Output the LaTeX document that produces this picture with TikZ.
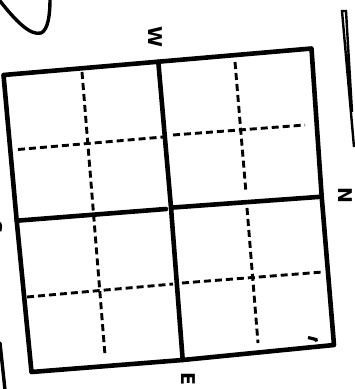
\documentclass[tikz,border=0pt]{standalone}
\usepackage{fontspec}
\newfontfamily\labfont{DejaVu Sans}
\usepackage{tikz}
\usetikzlibrary{arrows}

\begin{document}
\begin{tikzpicture}[x=1pt, y=-1pt,
				rahmen/.style={line width=4.6pt, line join=round, line cap=round},
				hilfslinie/.style={line width=2.9pt, dash pattern=on 7pt off 4pt},
				strich/.style={line width=3.4pt, line cap=round},
				lab/.style={font=\labfont\bfseries\fontsize{19}{19}\selectfont, rotate=-90, inner sep=0pt}]
				\useasboundingbox (0,0) rectangle (355,389);
				\clip (0,0) rectangle (355,389); %Bildbereich
				% Rahmen zeichnen
				\draw[rahmen] (3.5,75) -- (158.3,61.7) -- (311.5,48.5) -- (321.7,196.7) -- (334,345)
					-- (182.7,360) -- (31.5,372) -- (16.7,220.7) -- cycle;
				% Mittellinien
				\draw[rahmen] (158.3,61.7) -- (171,207.5) -- (182.7,360);
				\draw[rahmen] (16.7,220.7) -- (166,209);
				\draw[rahmen] (173,207.5) -- (321.7,196.7);
				% Raster gestrichelt
				\foreach \xa/\ya/\xb/\yb in {18/149.5/163/137, 173/135/305/125, 27/297/173/284, 182/283/323/272,
					82/72/105/355, 235/62/246/193, 247/208/258/343}
					\draw[hilfslinie] (\xa,\ya) -- (\xb,\yb);
				% Beschriftung
				\node[lab] (labW) at (155,37) {W};
				\node[lab] (labN) at (345,195) {N};
				\node[lab] (labE) at (188,379) {E};
				\node[lab] (labS) at (-5,227) {S};
				% Kleine Marke
				\draw[line width=3.2pt] (308,337.5) -- (316,339.5) -- (316.5,341.5);
				% Randstriche
				\draw[strich] (0,1) .. controls (15,20) and (30,36) .. (41,33) .. controls (48,30) and (50,15) .. (50,-1);
				\draw[line width=2.4pt] (354,147) -- (342,11) -- (346,11) -- (352,112);
				\draw[strich] (0,343) -- (5,390);
\end{tikzpicture}
\end{document}
